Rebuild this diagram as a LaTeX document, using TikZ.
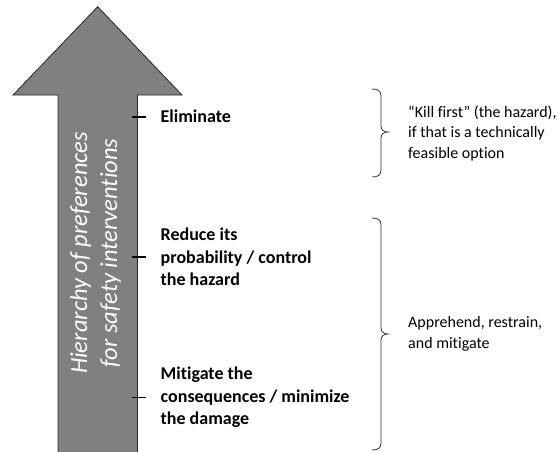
\documentclass[tikz,border=0pt]{standalone}
\usepackage{fontspec}
\setmainfont{Carlito}[RawFeature={-liga}]
\begin{document}
\begin{tikzpicture}[x=1pt,y=-1pt,
  arrowfill/.style={fill=arrowgray,draw=black!85,line width=0.8pt,line join=miter},
  tickline/.style={draw=black,line width=1.8pt},
  leftlabel/.style={anchor=west,align=left,inner sep=0pt,font=\fontsize{18}{22.5}\selectfont\bfseries},
  rightlabel/.style={anchor=west,align=left,inner sep=0pt,font=\fontsize{16}{20.5}\selectfont},
  vlabel/.style={align=center,inner sep=0pt,rotate=90,text=white,font=\fontsize{24.5}{30}\selectfont\itshape},
  bracestyle/.style={draw=black!80,line width=0.8pt}]
\definecolor{arrowgray}{RGB}{128,128,128}
\clip (0,0) rectangle (557,452);
\fill[white] (0,0) rectangle (557,452);
% big arrow
\draw[arrowfill] (97.7,6.7) -- (182,95) -- (137.5,95) -- (137.5,460) -- (58,460) -- (58,95) -- (13,95) -- cycle;
\node[vlabel] (vt) at (95.5,253) {Hierarchy of preferences\\for safety interventions};
% ticks
\coordinate (t1a) at (132,116.7); \coordinate (t1b) at (146,116.7);
\coordinate (t2a) at (132,257); \coordinate (t2b) at (146,257);
\coordinate (t3a) at (132,397.5); \coordinate (t3b) at (146,397.5);
\draw[tickline] (t1a) -- (t1b);
\draw[tickline] (t2a) -- (t2b);
\draw[tickline] (t3a) -- (t3b);
\node[leftlabel] (elim) at (160.5,116.7) {Eliminate};
\node[leftlabel] (red) at (160.5,257) {Reduce its\\probability / control\\the hazard};
\node[leftlabel] (mit) at (160.5,397.5) {Mitigate the\\consequences / minimize\\the damage};
% brace 1
\coordinate (b1top) at (372,89);
\coordinate (b1tip) at (388,132);
\coordinate (b1bot) at (372,177);
\draw[bracestyle] (b1top) .. controls (378,89) and (381,91) .. (381,96) -- (381,126)
  .. controls (381,130) and (384,132) .. (b1tip)
  .. controls (384,132) and (381,134) .. (381,138) -- (381,170)
  .. controls (381,175) and (378,177) .. (b1bot);
% brace 2
\coordinate (b2top) at (372,218);
\coordinate (b2tip) at (388,334);
\coordinate (b2bot) at (372,450);
\draw[bracestyle] (b2top) .. controls (378,218) and (381,220) .. (381,225) -- (381,328)
  .. controls (381,332) and (384,334) .. (b2tip)
  .. controls (384,334) and (381,336) .. (381,340) -- (381,443)
  .. controls (381,448) and (378,450) .. (b2bot);
\node[rightlabel] (r1) at (408,133) {“Kill first” (the hazard),\\if that is a technically\\feasible option};
\node[rightlabel] (r2) at (408,334) {Apprehend, restrain,\\and mitigate};
\end{tikzpicture}
\end{document}
